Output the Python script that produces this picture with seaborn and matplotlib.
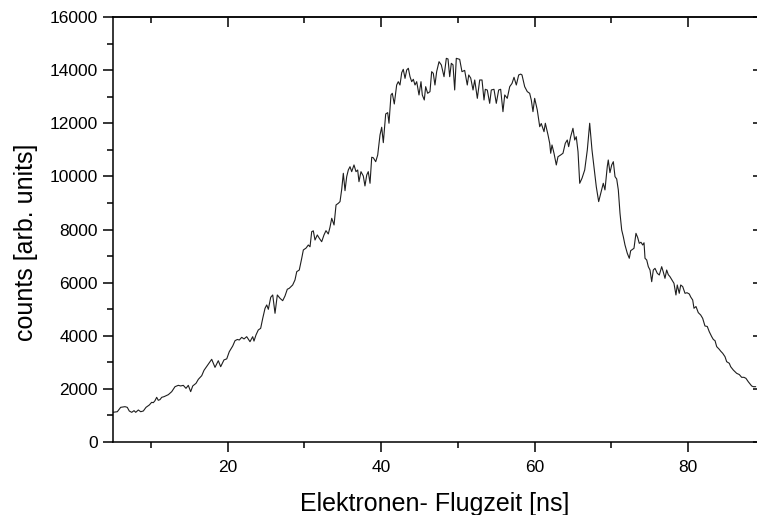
import matplotlib
matplotlib.use("Agg")
import matplotlib.pyplot as plt
from matplotlib.ticker import MultipleLocator, NullLocator
import seaborn as sns
import pandas as pd

time_ns = [5.12, 5.64, 6.08, 6.64, 6.94, 7.20, 7.52, 7.82, 8.04, 8.38, 8.69, 9.03, 9.38, 9.81, 10.12,
           10.33, 10.55, 10.77, 10.98, 11.20, 11.43, 11.73, 12.29, 12.73, 13.16, 13.59, 13.90, 14.24,
           14.59, 14.89, 15.20, 15.47, 15.90, 16.20, 16.64, 16.94, 17.37, 17.94, 18.37, 18.80, 19.11,
           19.54, 19.90, 20.23, 20.68, 20.98, 21.28, 21.54, 21.85, 22.15, 22.50, 22.93, 23.28, 23.45,
           23.71, 24.01, 24.32, 24.59, 24.89, 25.11, 25.32, 25.63, 25.89, 26.19, 26.49, 26.84, 27.19,
           27.49, 27.79, 28.05, 28.49, 28.79, 29.02, 29.35, 29.67, 29.88, 30.23, 30.53, 30.75, 30.97,
           31.18, 31.40, 31.70, 31.96, 32.27, 32.57, 32.83, 33.13, 33.35, 33.58, 33.88, 34.14, 34.44,
           34.66, 34.88, 35.09, 35.31, 35.53, 35.74, 35.96, 36.18, 36.48, 36.74, 36.96, 37.13, 37.39,
           37.69, 37.91, 38.14, 38.34, 38.57, 38.79, 39.00, 39.31, 39.57, 39.87, 40.09, 40.30, 40.61,
           40.87, 41.04, 41.30, 41.47, 41.73, 42.04, 42.25, 42.47, 42.70, 42.90, 43.13, 43.35, 43.56,
           43.78, 44.00, 44.21, 44.43, 44.65, 44.95, 45.21, 45.38, 45.64, 45.82, 46.08, 46.38, 46.60,
           46.81, 47.03, 47.25, 47.56, 47.86, 48.21, 48.51, 48.73, 48.95, 49.16, 49.38, 49.60, 49.81,
           50.25, 50.55, 50.90, 51.24, 51.43, 51.69, 51.99, 52.21, 52.55, 52.86, 53.16, 53.42, 53.59,
           53.85, 54.16, 54.37, 54.72, 55.02, 55.33, 55.59, 55.89, 56.12, 56.45, 56.77, 57.07, 57.33,
           57.63, 57.94, 58.20, 58.37, 58.72, 59.06, 59.37, 59.58, 59.80, 60.02, 60.36, 60.68, 60.88,
           61.24, 61.41, 61.76, 61.98, 62.11, 62.28, 62.54, 62.84, 63.06, 63.41, 63.71, 64.01, 64.27,
           64.45, 64.71, 65.01, 65.24, 65.44, 65.67, 65.89, 66.19, 66.54, 66.88, 67.19, 67.49, 67.84,
           68.05, 68.36, 68.75, 68.96, 69.18, 69.48, 69.61, 69.83, 70.06, 70.27, 70.49, 70.71, 70.92,
           71.14, 71.36, 71.57, 71.79, 72.09, 72.35, 72.53, 72.96, 73.22, 73.44, 73.65, 73.87, 74.10,
           74.27, 74.40, 74.62, 74.83, 75.05, 75.27, 75.48, 75.70, 76.00, 76.26, 76.57, 76.78, 77.00,
           77.22, 77.43, 77.65, 77.91, 78.17, 78.43, 78.60, 78.86, 79.05, 79.31, 79.61, 79.87, 80.17,
           80.35, 80.61, 80.78, 81.04, 81.34, 81.65, 81.91, 82.21, 82.51, 82.77, 83.09, 83.30, 83.52,
           83.74, 84.07, 84.26, 84.52, 84.82, 85.04, 85.38, 85.56, 85.90, 86.12, 86.34, 86.68, 86.99,
           87.29, 87.55, 87.85, 88.08, 88.30, 88.51, 88.82]

counts = [1120, 1140, 1305, 1330, 1305, 1167, 1117, 1180, 1117, 1205, 1140, 1167, 1305, 1393, 1494,
          1480, 1555, 1682, 1570, 1595, 1682, 1707, 1782, 1895, 2083, 2133, 2110, 2133,
          2020, 2133, 1895, 2110, 2210, 2360, 2497, 2700, 2880, 3113, 2810, 3060, 2835,
          3090, 3130, 3400, 3615, 3815, 3860, 3840, 3940, 3880, 3965, 3777, 3965, 3800,
          4030, 4217, 4280, 4657, 5034, 5160, 4996, 5448, 5535, 4845, 5535, 5410, 5320,
          5497, 5750, 5787, 5911, 6100, 6412, 6475, 6916, 7229, 7300, 7417, 7350, 7918,
          7950, 7605, 7794, 7670, 7541, 7794, 7956, 7831, 8083, 8422, 8170, 8923, 8987,
          9050, 9514, 10116, 9462, 9990, 10240, 10365, 10178, 10430, 10178, 10240, 9800, 10178,
          10015, 9640, 10053, 10178, 9740, 10720, 10700, 10553, 10806, 11560, 11850, 11270, 12350,
          12400, 12000, 13065, 13128, 12726, 13440, 13565, 13440, 13905, 14030, 13690, 14006, 14070,
          13753, 13565, 13655, 13440, 13565, 13065, 13565, 13065, 12876, 13377, 13128, 13190, 13942,
          13880, 13440, 13942, 14318, 14194, 13753, 14444, 14420, 13753, 14256, 14200, 13253, 14444,
          14406, 13942, 13990, 13440, 13818, 13700, 13253, 13629, 12938, 13629, 13629, 12876, 13278,
          13250, 12750, 13253, 13278, 12750, 13253, 13278, 12436, 13065, 12938, 13377, 13500, 13730,
          13440, 13818, 13850, 13818, 13377, 13190, 13128, 12876, 12436, 12938, 12500, 11870, 11990,
          11682, 12000, 11560, 11245, 10870, 11182, 10870, 10430, 10740, 10806, 10870, 11245, 11370,
          11119, 11494, 11810, 11370, 11494, 10930, 9740, 9930, 10240, 10994, 12000, 10994, 10116,
          9610, 9050, 9490, 9740, 9490, 10365, 10616, 10140, 10430, 10553, 9990, 9900, 9490,
          8610, 7982, 7730, 7417, 7104, 6916, 7202, 7292, 7856, 7700, 7480, 7520, 7417,
          7500, 6916, 6852, 6600, 6475, 6035, 6475, 6538, 6350, 6287, 6600, 6400, 6162,
          6475, 6300, 6224, 6100, 5975, 5535, 5911, 5598, 5911, 5850, 5598, 5620, 5572,
          5460, 5346, 5034, 5100, 4870, 4782, 4657, 4367, 4350, 4153, 3965, 3860, 3815,
          3590, 3490, 3420, 3340, 3212, 3023, 2963, 2835, 2710, 2650, 2585, 2540, 2435,
          2435, 2397, 2270, 2184, 2108, 2083, 2083]

x_ticks = [20, 40, 60, 80]
y_ticks = [0, 2000, 4000, 6000, 8000, 10000, 12000, 14000, 16000]
x_label = "Elektronen- Flugzeit [ns]"
y_label = "counts [arb. units]"

sns.set_theme(style="ticks")
plt.rcParams['font.family'] = ['Liberation Sans', 'DejaVu Sans']

fig = plt.figure(figsize=(7.57, 5.15), dpi=100)
ax = fig.add_axes([113 / 757, 73 / 515, 644 / 757, 425 / 515])

df = pd.DataFrame({"t": time_ns, "c": counts})
sns.lineplot(data=df, x="t", y="c", color="#1e1e1e", linewidth=0.8,
             estimator=None, sort=False, ax=ax)

ax.set_xlim(5.08, 88.99)
ax.set_ylim(0, 16000)
ax.set_xticks(x_ticks)
ax.set_yticks(y_ticks)
ax.xaxis.set_minor_locator(MultipleLocator(10))
ax.yaxis.set_minor_locator(MultipleLocator(1000))

for s in ["left", "bottom", "top"]:
    ax.spines[s].set_linewidth(1.1)
    ax.spines[s].set_color("black")
ax.spines["right"].set_visible(False)

ax.tick_params(axis="both", which="both", colors="black", width=1.1, labelsize=12.5,
               top=False, right=False)
ax.tick_params(axis="x", which="major", direction="out", length=7, pad=6)
ax.tick_params(axis="x", which="minor", direction="out", length=4)
ax.tick_params(axis="y", which="major", direction="out", length=7, pad=4)
ax.tick_params(axis="y", which="minor", direction="out", length=4)

top = ax.secondary_xaxis("top")
top.set_xticks(x_ticks)
top.xaxis.set_minor_locator(MultipleLocator(10))
top.tick_params(axis="x", which="major", direction="in", length=7, width=1.1,
                colors="black", labeltop=False)
top.tick_params(axis="x", which="minor", direction="in", length=4, width=1.1,
                colors="black")
top.spines["top"].set_linewidth(1.1)

right = ax.secondary_yaxis("right")
right.set_yticks(y_ticks)
right.yaxis.set_minor_locator(NullLocator())
right.tick_params(axis="y", which="major", direction="in", length=3, width=1.1,
                  colors="black", labelright=False)
right.spines["right"].set_visible(False)

ax.set_xlabel(x_label, fontsize=18, labelpad=12, color="black")
ax.set_ylabel(y_label, fontsize=18, color="black")
ax.yaxis.set_label_coords(-0.117, 0.47)

fig.savefig("out.png", dpi=100)
